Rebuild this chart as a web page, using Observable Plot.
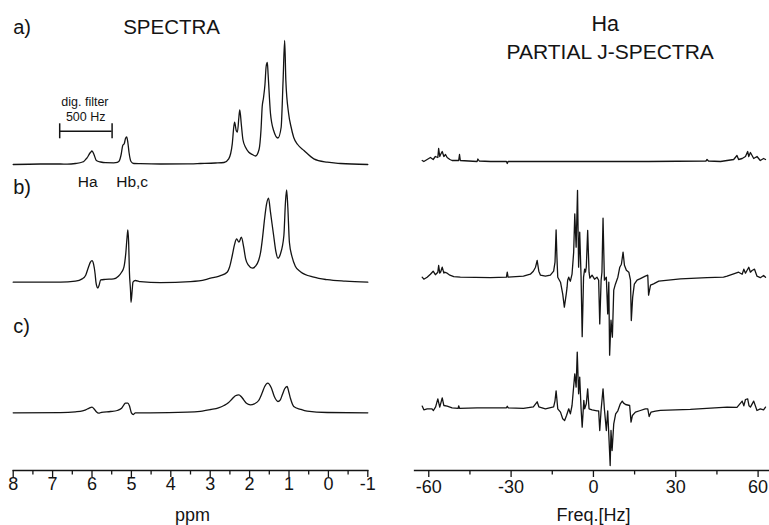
<!DOCTYPE html>
<html>
<head>
<meta charset="utf-8">
<script src="https://cdn.jsdelivr.net/npm/d3@7"></script>
<script src="https://cdn.jsdelivr.net/npm/@observablehq/plot@0.6"></script>
<style>
  html, body { margin: 0; padding: 0; background: #fff; }
  #wrap { display: flex; width: 769px; height: 525px; }
</style>
</head>
<body>
<div id="wrap"></div>
<script>
// ---------- data: 1H spectra (ppm, intensity) ----------
const spectrumA = [[8.00,0],[7.31,0.5],[6.80,0.5],[6.63,0.3],[6.42,1],[6.24,2.5],[6.21,3],[6.14,6],[6.11,7.5],[6.06,11],[6.04,12],[6.00,13.5],[5.95,10],[5.89,4],[5.78,2.5],[5.66,1.8],[5.45,1.7],[5.40,1.8],[5.32,3],[5.26,10],[5.22,19],[5.18,21],[5.15,26],[5.12,27.5],[5.09,22],[5.06,12],[5.01,3],[4.94,1],[4.77,0.8],[4.26,0.5],[3.50,0.7],[3.25,1],[2.87,1.5],[2.65,2],[2.53,5.7],[2.44,20.7],[2.40,38],[2.38,42.3],[2.34,34],[2.31,32.3],[2.27,48],[2.25,54.7],[2.21,40],[2.17,25],[2.10,17],[2.02,12.3],[1.93,10],[1.85,8.5],[1.76,15],[1.71,35],[1.68,58],[1.65,66],[1.61,80],[1.58,98],[1.55,102],[1.53,90],[1.47,51],[1.39,34],[1.28,26.5],[1.20,37],[1.15,84],[1.11,124],[1.08,84],[1.01,51],[0.95,38],[0.88,27],[0.78,20],[0.62,14],[0.37,5.7],[0.03,2.3],[-0.31,1],[-1.00,0]];
const spectrumB = [[8.00,0],[6.80,0],[6.42,1],[6.25,3.3],[6.16,7],[6.09,15],[6.04,20],[6.00,21.5],[5.96,18],[5.92,8],[5.90,0],[5.87,-5],[5.85,-5.8],[5.82,-3],[5.78,2.3],[5.66,2.8],[5.45,3.3],[5.33,6],[5.25,10],[5.19,15],[5.14,30],[5.11,45],[5.09,52.2],[5.07,40],[5.05,10],[5.02,-10],[5.01,-20.2],[4.98,-8],[4.96,0],[4.90,1.7],[4.77,0.5],[4.26,-0.5],[3.50,0.5],[3.12,2.5],[2.99,4],[2.87,5],[2.74,6.5],[2.57,10],[2.51,15],[2.44,26.7],[2.38,38],[2.33,43.3],[2.27,40],[2.21,45],[2.15,35],[2.10,23.3],[2.03,17],[1.93,14],[1.85,16],[1.77,22],[1.72,30],[1.67,45],[1.62,63.3],[1.57,78],[1.52,84],[1.47,70],[1.39,46.7],[1.33,30],[1.28,24],[1.22,28],[1.13,46.7],[1.09,80],[1.06,92.3],[1.03,75],[0.99,40],[0.92,25],[0.84,16],[0.71,10.5],[0.37,5],[0.03,2.5],[-0.43,1],[-1.00,0]];
const spectrumC = [[8.00,0],[6.80,0.2],[6.42,1],[6.24,2],[6.16,3],[6.08,4.5],[6.00,5.6],[5.94,3.5],[5.89,1],[5.83,-0.4],[5.76,0.5],[5.53,1.3],[5.36,2.3],[5.25,4.5],[5.19,8],[5.15,9.7],[5.09,9.7],[5.05,7],[5.00,0],[4.95,-1.7],[4.90,0],[4.52,0],[3.58,0.6],[3.25,1.5],[2.99,3.3],[2.79,5],[2.65,7.3],[2.54,10],[2.44,14],[2.36,17],[2.27,18],[2.21,16],[2.15,13],[2.08,9.5],[1.98,8],[1.88,9],[1.77,12.3],[1.68,20],[1.62,26],[1.54,29.6],[1.45,25],[1.37,16],[1.28,11.3],[1.22,13],[1.17,18],[1.11,24],[1.05,26.3],[1.00,20],[0.96,14],[0.88,6.3],[0.71,3.5],[0.54,1.6],[0.03,0.3],[-1.00,0]];

// ---------- data: Ha partial J-spectra (Hz, intensity) ----------
const jSpectrumA = [[-62.4,1],[-61.8,0],[-60.6,2],[-59.4,4],[-58.4,2],[-57.6,5],[-56.7,4],[-56.4,13],[-56.0,5],[-55.7,7],[-55.1,10],[-54.5,5],[-53.9,7],[-53.3,4],[-52.3,2],[-51.5,1],[-49.1,1],[-48.8,7],[-48.5,1],[-42.4,0],[-42.1,2.5],[-41.6,0.5],[-37.5,0],[-31.7,0],[-31.4,-2],[-31.1,0],[-20,0],[0,0],[20,0],[41.0,0.5],[41.4,2],[41.9,0.5],[46.3,0],[48.7,1],[51.1,2],[52.3,6],[52.9,2],[54.2,3],[55.4,5],[56.2,10],[56.6,5],[57.2,9],[57.8,6],[58.4,3],[59.6,5],[60.8,1],[62.0,3],[62.7,2]];
const jSpectrumB = [[-62.4,0],[-61.8,-2],[-60.6,0],[-59.4,3],[-58.4,6],[-57.6,2.5],[-56.7,5],[-56.4,11.7],[-56.0,4],[-55.7,5],[-55.1,10],[-54.5,4],[-54.3,5],[-53.3,4],[-52.3,2],[-50.9,0.5],[-48.5,0],[-37.5,-0.5],[-31.7,0],[-31.4,5],[-31.1,0],[-25.5,1],[-23.0,3],[-21.9,6],[-21.1,10],[-20.5,16.7],[-19.9,6],[-19.3,2],[-17.5,1],[-15.7,2],[-14.5,6],[-14.0,15],[-13.6,47.3],[-13.3,20],[-13.0,0],[-12.0,-5],[-11.2,-16.7],[-10.6,-30],[-9.9,-16.7],[-9.6,-10],[-9.4,-3],[-9.0,0],[-8.6,-3],[-8.4,-4],[-7.8,3],[-7.2,25],[-6.8,63.3],[-6.3,30],[-5.8,86.7],[-5.4,10],[-5.0,45],[-4.5,0],[-4.1,-59.5],[-3.6,0],[-3.2,8],[-2.9,5],[-2.6,10],[-2.1,46.7],[-1.6,5],[-1.3,-1],[-0.5,2],[0.4,-2],[1.3,0],[1.9,-3],[2.3,-46.7],[2.8,-3],[3.1,5],[3.5,59],[4.0,-3],[4.7,0],[5.2,-36.7],[5.6,-5],[5.9,-78],[6.4,-43],[6.9,-60],[7.4,-13],[8.0,-7],[8.9,0],[9.6,10],[10.2,13],[10.8,25],[11.3,12],[12.0,7],[12.9,5],[13.5,-3],[13.8,-43.3],[14.3,-20],[14.9,-7],[15.9,-3],[17.1,-1.5],[18.9,1],[19.8,2],[20.1,-18],[20.8,-8],[21.9,-6.6],[23.8,-4],[31.7,-1.6],[41.4,-0.5],[47.4,0],[48.7,1],[51.1,3.3],[52.9,5],[54.2,3],[54.8,8],[55.4,4],[56.6,10],[57.2,5],[57.8,6.7],[58.7,8],[59.6,1],[60.8,-0.5],[62.0,1.7],[62.7,0]];
const jSpectrumC = [[-62.4,2.7],[-61.8,-1],[-60.6,0],[-58.9,0],[-58.3,-1.7],[-57.5,2],[-56.7,10],[-56.0,1.7],[-55.1,11],[-54.5,3.3],[-53.3,2.7],[-51.5,1],[-49.3,0.5],[-49.1,3],[-48.8,0.5],[-42.4,1],[-31.7,1],[-31.4,2.5],[-31.1,1],[-25.5,0.5],[-21.9,2],[-20.5,7],[-19.9,2],[-17.5,0],[-14.5,2],[-14.0,8],[-13.6,18],[-13.0,0],[-12.0,-3.3],[-11.2,-10],[-10.5,-11.7],[-9.8,-6.7],[-9.0,0],[-8.4,-5],[-7.8,3.3],[-6.8,35],[-6.3,21.7],[-5.9,56.7],[-5.4,15],[-5.0,31.7],[-4.5,0],[-4.1,-18.3],[-3.5,8.3],[-3.2,0],[-2.6,5],[-2.1,20],[-1.6,0],[-0.5,-1],[1.3,-2],[1.9,-2],[2.3,-21.7],[2.8,-1],[3.5,20],[4.0,-0.5],[4.7,-21.7],[5.2,-2],[5.7,-31.7],[6.1,-56.7],[6.4,-21.7],[6.8,-41.7],[7.4,-15],[8.1,-5],[8.9,-2],[9.8,5],[10.5,7.7],[11.0,5.7],[11.7,4.3],[13.2,3.3],[13.7,-13.3],[14.2,-6.7],[15.3,-3.3],[17.1,-1.7],[18.9,0],[19.8,0],[20.3,-7.7],[21.0,-3.3],[22.6,-2.3],[24.4,-1.5],[35.3,-0.5],[48.7,1.7],[52.3,1.5],[54.2,7.7],[54.8,3],[55.4,9.3],[56.2,10],[56.7,3],[57.2,1.7],[58.4,7.7],[59.6,-1.7],[60.8,0],[62.0,-1],[62.7,1.7]];

// ---------- ticks & labels ----------
const ppmTicks = [8, 7, 6, 5, 4, 3, 2, 1, 0, -1];
const ppmMinorTicks = [7.5, 6.5, 5.5, 4.5, 3.5, 2.5, 1.5, 0.5, -0.5];
const hzTicks = [-60, -30, 0, 30, 60];
const hzMinorTicks = [-45, -15, 15, 45];
const panelLabels = ["a)", "b)", "c)"];
const peakLabels = ["Ha", "Hb,c"];
const filterBar = [6.82, 5.49];     // ppm extent of the 500 Hz bar
const filterText = ["dig. filter", "500 Hz"];

// ---------- layout (vertical offsets of stacked traces, in y units) ----------
const H = 525;
const offL = [361, 243.3, 112.7];
const offR = [364, 248.3, 116.7];
const ink = "#141414";
const font = "'Liberation Sans', Arial, Helvetica, sans-serif";

function txt(t, x, y, o = {}) {
  return Plot.text([t], {x: () => x, y: () => y, text: d => d, lineAnchor: "bottom", fill: ink, fontSize: 20, ...o});
}
const traceOpts = {stroke: ink, strokeWidth: 1.3, strokeLinejoin: "round"};

const left = Plot.plot({
  width: 390, height: H,
  marginLeft: 12.7, marginRight: 22.7, marginTop: 0, marginBottom: 55,
  style: {fontFamily: font, fontSize: "18px", color: ink, background: "transparent"},
  x: {domain: [8, -1]},
  y: {domain: [0, H], range: [H, 0], axis: null},
  marks: [
    Plot.frame({anchor: "bottom", stroke: ink, strokeWidth: 1.3}),
    Plot.axisX(ppmTicks, {tickSize: 7, tickPadding: 0, tickFormat: d => String(d), fontSize: 18, label: null, stroke: ink, fill: ink, strokeWidth: 1.3}),
    Plot.axisX(ppmMinorTicks, {tickSize: 4.5, tickFormat: () => "", label: null, stroke: ink, strokeWidth: 1.3}),
    Plot.line(spectrumA, {x: d => d[0], y: d => offL[0] + d[1], curve: "monotone-x", ...traceOpts}),
    Plot.line(spectrumB, {x: d => d[0], y: d => offL[1] + d[1], curve: "monotone-x", ...traceOpts}),
    Plot.line(spectrumC, {x: d => d[0], y: d => offL[2] + d[1], curve: "monotone-x", ...traceOpts}),
    // digital filter bar
    Plot.ruleY([0], {x1: () => filterBar[0], x2: () => filterBar[1], y: () => offL[0] + 33.3, stroke: ink, strokeWidth: 1.5}),
    Plot.ruleX(filterBar, {x: d => d, y1: () => offL[0] + 25.7, y2: () => offL[0] + 40.7, stroke: ink, strokeWidth: 1.5}),
    txt(filterText[0], 6.18, 420, {fontSize: 12.5}),
    txt(filterText[1], 6.16, 404.3, {fontSize: 12.5}),
    // labels
    txt(panelLabels[0], 8, 491.7, {textAnchor: "start"}),
    txt(panelLabels[1], 8, 331.7, {textAnchor: "start"}),
    txt(panelLabels[2], 8, 192.3, {textAnchor: "start"}),
    txt("SPECTRA", 3.98, 491.7, {fontSize: 20.5}),
    txt(peakLabels[0], 6.11, 339, {fontSize: 15.5}),
    txt(peakLabels[1], 4.98, 339, {fontSize: 15.5}),
    txt("ppm", 3.45, 5, {fontSize: 18})
  ]
});

const right = Plot.plot({
  width: 379, height: H,
  marginLeft: 24, marginRight: 0.7, marginTop: 0, marginBottom: 55,
  style: {fontFamily: font, fontSize: "18px", color: ink, background: "transparent"},
  x: {domain: [-65.2, 63.9]},
  y: {domain: [0, H], range: [H, 0], axis: null},
  marks: [
    Plot.frame({anchor: "bottom", stroke: ink, strokeWidth: 1.3}),
    Plot.axisX(hzTicks, {tickSize: 7, tickPadding: 3, tickFormat: d => String(d), fontSize: 18, label: null, stroke: ink, fill: ink, strokeWidth: 1.3}),
    Plot.axisX(hzMinorTicks, {tickSize: 4.5, tickFormat: () => "", label: null, stroke: ink, strokeWidth: 1.3}),
    Plot.line(jSpectrumA, {x: d => d[0], y: d => offR[0] + d[1], ...traceOpts}),
    Plot.line(jSpectrumB, {x: d => d[0], y: d => offR[1] + d[1], ...traceOpts}),
    Plot.line(jSpectrumC, {x: d => d[0], y: d => offR[2] + d[1], ...traceOpts}),
    txt("Ha", 4.3, 495, {fontSize: 21.5}),
    txt("PARTIAL J-SPECTRA", 6.1, 466.7, {fontSize: 21}),
    txt("Freq.[Hz]", 0, 5, {fontSize: 18})
  ]
});

const wrap = document.getElementById("wrap");
wrap.appendChild(left);
wrap.appendChild(right);
</script>
</body>
</html>
